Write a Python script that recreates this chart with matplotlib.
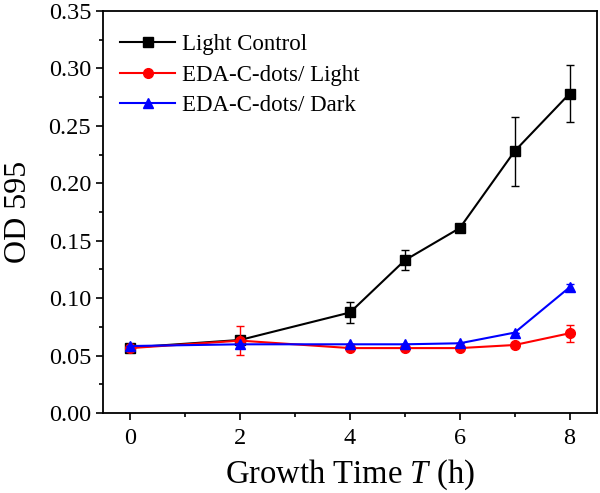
import matplotlib
matplotlib.use('Agg')
import matplotlib.pyplot as plt
from matplotlib.ticker import MultipleLocator, FormatStrFormatter

plt.rcParams['font.family'] = ['Liberation Serif', 'DejaVu Serif']
plt.rcParams['mathtext.fontset'] = 'custom'
plt.rcParams['mathtext.it'] = 'Liberation Serif:italic'
plt.rcParams['mathtext.rm'] = 'Liberation Serif'

# growth time (h)
time_h = [0, 2, 4, 5, 6, 7, 8]

# OD 595 values and error bars
control = [0.057, 0.0636, 0.0875, 0.133, 0.161, 0.228, 0.278]
control_err = [0.0, 0.0, 0.0095, 0.0085, 0.003, 0.030, 0.025]
edaLight = [0.0565, 0.063, 0.0565, 0.0565, 0.0565, 0.0592, 0.0694]
edaLight_err = [0.0, 0.0126, 0.0, 0.0, 0.0, 0.0, 0.0075]
edaDark = [0.0583, 0.0598, 0.0598, 0.0598, 0.0607, 0.070, 0.1094]
edaDark_err = [0.0, 0.0, 0.0, 0.0, 0.0, 0.0, 0.003]

labels = ['Light Control', 'EDA-C-dots/ Light', 'EDA-C-dots/ Dark']
series = [(control, control_err, 'black', 's'),
          (edaLight, edaLight_err, 'red', 'o'),
          (edaDark, edaDark_err, 'blue', '^')]

fig = plt.figure(figsize=(6, 4.93), dpi=100)
ax = fig.add_axes([0.1717, 0.1623, 0.8233, 0.8154])

for (vals, errs, col, mk), lab in zip(series, labels):
    ax.errorbar(time_h, vals, yerr=errs, fmt='none', ecolor=col, capsize=3, elinewidth=1)
    ax.plot(time_h, vals, color=col, marker=mk, ms=7, lw=1.5, label=lab)

ax.set_xlim(-0.5, 8.5)
ax.set_ylim(0, 0.35)
ax.xaxis.set_major_locator(MultipleLocator(2))
ax.xaxis.set_minor_locator(MultipleLocator(1))
ax.yaxis.set_major_locator(MultipleLocator(0.05))
ax.yaxis.set_minor_locator(MultipleLocator(0.025))
ax.yaxis.set_major_formatter(FormatStrFormatter('%.2f'))
ax.tick_params(which='major', direction='out', length=5, width=1.2, labelsize=17.5)
ax.tick_params(axis='x', which='major', pad=6)
ax.tick_params(which='minor', direction='out', length=3, width=1.2)
for s in ax.spines.values():
    s.set_linewidth(1.3)

ax.set_xlabel('Growth Time $\\mathit{T}$ (h)', fontsize=23.5, labelpad=6)
ax.set_ylabel('OD 595', fontsize=23, labelpad=11)

leg = ax.legend(loc='upper left', bbox_to_anchor=(-0.012, 1.0), frameon=False,
                fontsize=16.5, handlelength=2.4, handletextpad=0.3,
                labelspacing=0.42, borderaxespad=0.6, borderpad=0.4)

fig.savefig('out.png', dpi=100)
